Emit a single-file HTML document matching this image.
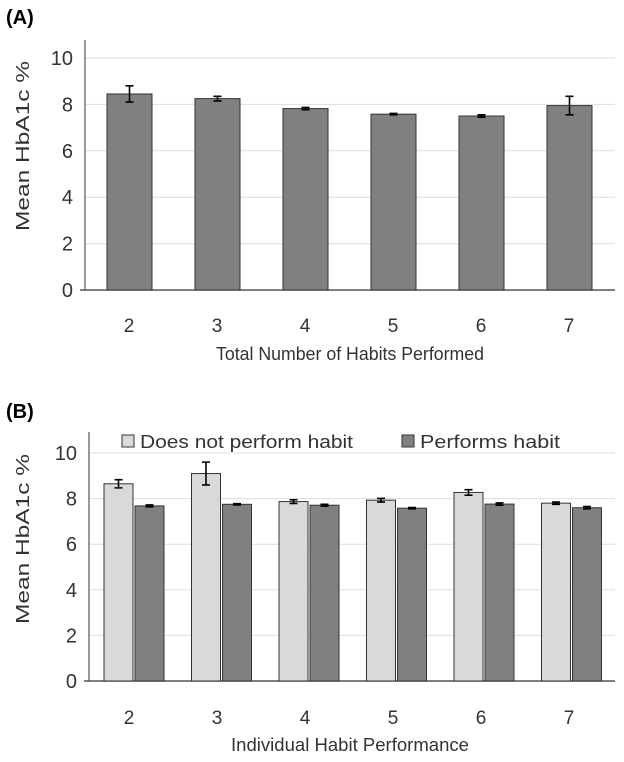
<!DOCTYPE html>
<html><head><meta charset="utf-8"><style>
body{margin:0;background:#fff;}
svg text{font-family:"Liberation Sans",sans-serif;fill:#333;}
</style></head><body>
<svg width="624" height="757">
<text x="6" y="24" font-size="20" font-weight="bold" style="fill:#000">(A)</text>
<g id="ga"></g>
<text x="6" y="418" font-size="20" font-weight="bold" style="fill:#000">(B)</text>
<g id="gb"></g>
</svg>
<script>
const categories=["2","3","4","5","6","7"];
const yTicks=[0,2,4,6,8,10];
const totalVals=[8.45,8.25,7.82,7.58,7.5,7.95];
const totalErr=[0.35,0.1,0.05,0.03,0.05,0.4];
const notPerformVals=[8.65,9.1,7.87,7.93,8.27,7.8];
const notPerformErr=[0.18,0.5,0.08,0.08,0.12,0.05];
const performVals=[7.68,7.75,7.71,7.58,7.76,7.6];
const performErr=[0.04,0.03,0.04,0.03,0.05,0.05];
const NS="http://www.w3.org/2000/svg";
function mk(p,t,a,txt){const e=document.createElementNS(NS,t);for(const k in a)e.setAttribute(k,a[k]);if(txt!==undefined)e.textContent=txt;p.appendChild(e);return e;}
function axes(g,y0,y10,axX,axTop,xTitle,xLen,tickOff,titleOff){
  const y=v=>y0+(y10-y0)*v/10;
  yTicks.forEach(t=>{
    if(t>0){const l=mk(g,'line',{x1:axX,x2:615,y1:y(t),y2:y(t),stroke:'#ddd','stroke-width':1});
    
    }
    const tx=mk(g,'text',{x:axX-12,y:y(t)+7,'font-size':20,'text-anchor':'end'},String(t));
    
    
  });
  const xa=mk(g,'line',{x1:axX-5,x2:615,y1:y0,y2:y0,stroke:'#555','stroke-width':1.5});
  
  
  const ya=mk(g,'line',{x1:axX,x2:axX,y1:axTop,y2:y0,stroke:'#555','stroke-width':1.2});
  
  
  categories.forEach((c,i)=>{
    const tx=mk(g,'text',{x:129+88*i,y:y0+tickOff,'font-size':19,'text-anchor':'middle'},c);
    
    
  });
  const yt=mk(g,'text',{x:0,y:0,'font-size':18,'text-anchor':'middle',textLength:170,lengthAdjust:'spacingAndGlyphs',transform:`translate(29,${(y0+y10)/2-28}) rotate(-90)`},'Mean HbA1c %');
  
  
  const xt=mk(g,'text',{x:350,y:y0+titleOff,'font-size':18,'text-anchor':'middle',textLength:xLen,lengthAdjust:'spacingAndGlyphs'},xTitle);
  
  
  return y;
}
function bar(g,x,w,v,e,y,fill,name){
  const r=mk(g,'rect',{x:x,y:y(v),width:w,height:y(0)-y(v),fill:fill,stroke:'#333','stroke-width':1});
  
  
  const cx=x+w/2;
  const eb=mk(g,'path',{d:`M${cx},${y(v+e)}V${y(v-e)}M${cx-4},${y(v+e)}H${cx+4}M${cx-4},${y(v-e)}H${cx+4}`,stroke:'#000','stroke-width':1.6,fill:'none'});
  
  
}
const ga=document.getElementById('ga');
const ya=axes(ga,290,58,85,40,'Total Number of Habits Performed',268,42,70);
totalVals.forEach((v,i)=>bar(ga,107+88*i,45,v,totalErr[i],ya,'#808080','bar-total-'+categories[i]));
const gb=document.getElementById('gb');
const yb=axes(gb,681,453,89,432,'Individual Habit Performance',238,43,70);
notPerformVals.forEach((v,i)=>bar(gb,104+87.5*i,29,v,notPerformErr[i],yb,'#d9d9d9','bar-not-perform-'+categories[i]));
performVals.forEach((v,i)=>bar(gb,135+87.5*i,29,v,performErr[i],yb,'#808080','bar-perform-'+categories[i]));
const l1=mk(gb,'rect',{x:122,y:435,width:12,height:12,fill:'#d9d9d9',stroke:'#333'});


const t1=mk(gb,'text',{x:140,y:448,'font-size':18,textLength:213,lengthAdjust:'spacingAndGlyphs'},'Does not perform habit');


const l2=mk(gb,'rect',{x:402,y:435,width:12,height:12,fill:'#808080',stroke:'#333'});


const t2=mk(gb,'text',{x:420,y:448,'font-size':18,textLength:140,lengthAdjust:'spacingAndGlyphs'},'Performs habit');


</script>
</body></html>
